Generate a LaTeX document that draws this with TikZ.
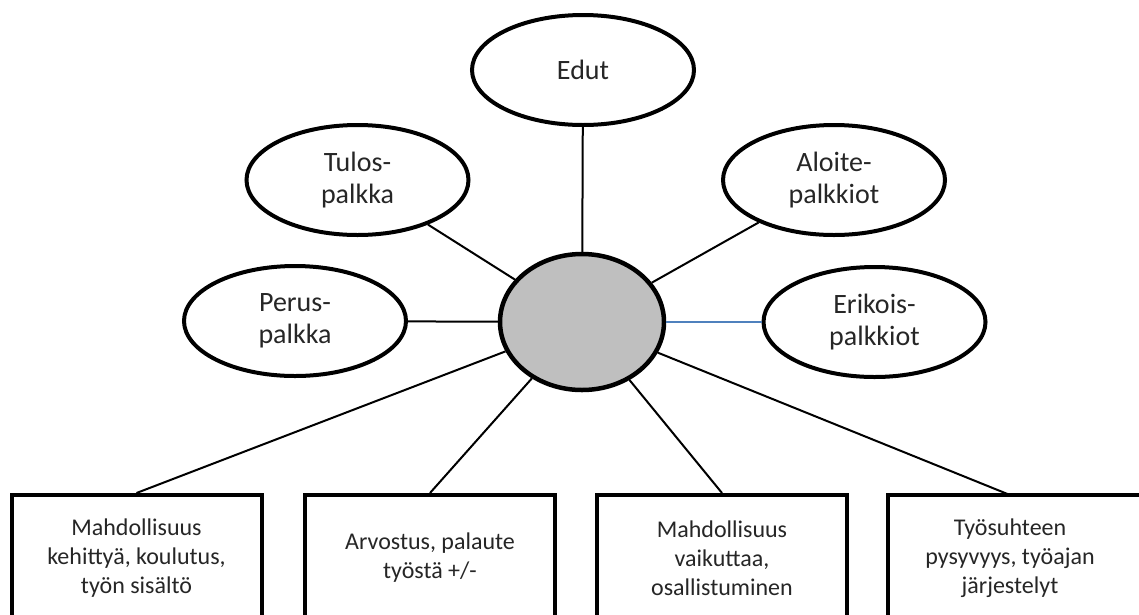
\documentclass[tikz,border=0pt]{standalone}
\usepackage{fontspec}
\setmainfont{Carlito}
\usetikzlibrary{shapes.geometric}
\definecolor{hubgray}{RGB}{191,191,191}
\definecolor{linkblue}{RGB}{79,129,189}
\tikzset{
  oval/.style={draw=black, ellipse, line width=4pt, minimum width=222pt, minimum height=110pt,
    inner sep=0pt, align=center, font=\fontsize{28}{32}\selectfont, text=black!85},
  hub/.style={draw=black, fill=hubgray, ellipse, line width=4.5pt, minimum width=164pt,
    minimum height=136pt, inner sep=0pt},
  boxnode/.style={draw=black, rectangle, line width=4pt, minimum width=250pt, minimum height=126pt,
    inner sep=0pt, align=center, font=\fontsize{24}{29}\selectfont, text=black!85},
  boxtext/.style={align=center, inner sep=0pt, font=\fontsize{24}{29}\selectfont, text=black!85},
  link/.style={line width=2pt, black},
  bluelink/.style={line width=2pt, linkblue}
}
\begin{document}
\begin{tikzpicture}[x=1pt, y=-1pt]
\useasboundingbox (0,0) rectangle (1139,614);
\clip (0,0) rectangle (1139,614);
\fill[white] (0,0) rectangle (1139,614);

\node[hub] (c) at (582,322) {};
\node[oval] (edut) at (583,70) {Edut};
\node[oval] (tulos) at (357.5,180) {Tulos-\\palkka};
\node[oval] (aloite) at (834,180) {Aloite-\\palkkiot};
\node[oval] (perus) at (295,321) {Perus-\\palkka};
\node[oval] (erikois) at (874.5,322) {Erikois-\\palkkiot};

\node[boxnode] (b1) at (136.5,558) {Mahdollisuus\\kehittyä, koulutus,\\työn sisältö};
\node[boxnode] (b2) at (430,558) {Arvostus, palaute\\työstä +/-};
\node[boxnode] (b3) at (722,558) {Mahdollisuus\\vaikuttaa,\\osallistuminen};
\node[boxnode, minimum width=264pt] (b4) at (1020,558) {};
\node[boxtext] (t4) at (1010,558) {Työsuhteen\\pysyvyys, työajan\\järjestelyt};
\coordinate (b4top) at (1010,495);

\draw[link] (c) -- (edut);
\draw[link] (c) -- (tulos);
\draw[link] (c) -- (aloite);
\draw[link] (c) -- (perus);
\draw[bluelink] (c) -- (erikois);
\draw[link] (c) -- (b1.north);
\draw[link] (c) -- (b2.north);
\draw[link] (c) -- (b3.north);
\draw[link] (c) -- (b4top);
\end{tikzpicture}
\end{document}
